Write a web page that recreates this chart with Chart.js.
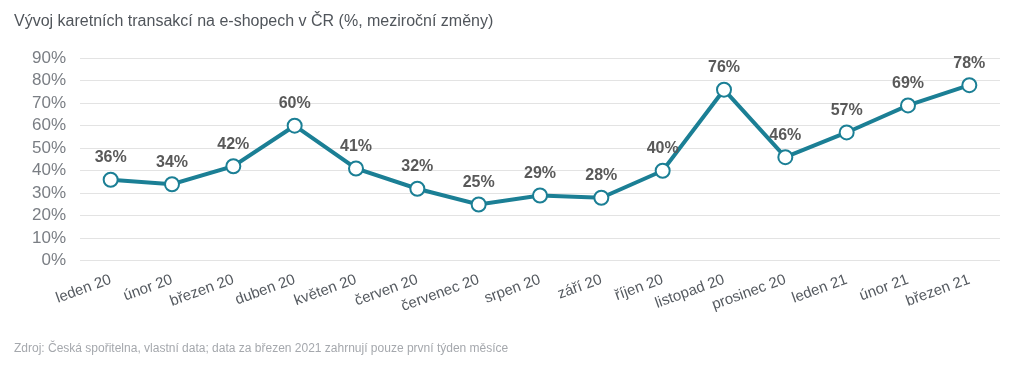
<!DOCTYPE html>
<html>
<head>
<meta charset="utf-8">
<script src="https://cdn.jsdelivr.net/npm/chart.js@4"></script>
<style>
  html, body { margin: 0; padding: 0; background: #fff; }
  #wrap { width: 1024px; height: 370px; position: relative; }
</style>
</head>
<body>
<div id="wrap"><canvas id="graf" width="1024" height="370"></canvas></div>
<script>
var mesice = ["leden 20", "únor 20", "březen 20", "duben 20", "květen 20", "červen 20", "červenec 20", "srpen 20", "září 20", "říjen 20", "listopad 20", "prosinec 20", "leden 21", "únor 21", "březen 21"];
var zmeny = [36, 34, 42, 60, 41, 32, 25, 29, 28, 40, 76, 46, 57, 69, 78];
var osaY = [0, 10, 20, 30, 40, 50, 60, 70, 80, 90];

var popisky = {
  id: 'popisky',
  afterDatasetsDraw: function(chart) {
    var ctx = chart.ctx;
    var meta = chart.getDatasetMeta(0);
    ctx.save();
    ctx.font = "bold 16px 'Liberation Sans', Arial, sans-serif";
    ctx.fillStyle = "#595959";
    ctx.textAlign = "center";
    ctx.textBaseline = "bottom";
    meta.data.forEach(function(bod, i) {
      ctx.fillText(zmeny[i] + "%", bod.x, bod.y - 14);
    });
    ctx.restore();
  }
};

Chart.defaults.font.family = "'Liberation Sans', Arial, sans-serif";
var ctx = document.getElementById("graf").getContext('2d');
var myChart = new Chart(ctx, {
  type: 'line',
  data: {
    labels: mesice,
    datasets: [{
      data: zmeny,
      borderColor: "#1b7f95",
      borderWidth: 4,
      pointRadius: 7,
      pointHoverRadius: 7,
      pointBackgroundColor: "#ffffff",
      pointBorderColor: "#1b7f95",
      pointBorderWidth: 2,
      tension: 0,
      clip: false
    }]
  },
  plugins: [popisky],
  options: {
    responsive: false,
    animation: false,
    devicePixelRatio: 1,
    layout: { padding: { left: 14, right: 24, top: 0, bottom: 4 } },
    plugins: {
      legend: { display: false },
      tooltip: { enabled: false },
      title: {
        display: true,
        text: "Vývoj karetních transakcí na e-shopech v ČR (%, meziroční změny)",
        align: 'start',
        color: "#50555b",
        font: { size: 16, weight: 'normal' },
        padding: { top: 12, bottom: 27 }
      },
      subtitle: {
        display: true,
        position: 'bottom',
        text: "Zdroj: Česká spořitelna, vlastní data; data za březen 2021 zahrnují pouze první týden měsíce",
        align: 'start',
        color: "#a5a8ad",
        font: { size: 12 },
        padding: { top: 24, bottom: 10 }
      }
    },
    scales: {
      x: {
        offset: true,
        grid: { display: false },
        border: { display: false },
        ticks: {
          color: "#555a60",
          font: { size: 15 },
          minRotation: 20,
          maxRotation: 20,
          autoSkip: false,
          padding: 2
        }
      },
      y: {
        min: 0,
        max: 90,
        afterBuildTicks: function(axis) {
          axis.ticks = osaY.map(function(v) { return { value: v }; });
        },
        afterFit: function(axis) { axis.width = 66; },
        grid: { color: "#e3e3e3", drawTicks: false },
        border: { display: false },
        ticks: {
          color: "#7a7e84",
          font: { size: 17 },
          padding: 14,
          autoSkip: false,
          callback: function(v) { return v + "%"; }
        }
      }
    }
  }
});
</script>
</body>
</html>
